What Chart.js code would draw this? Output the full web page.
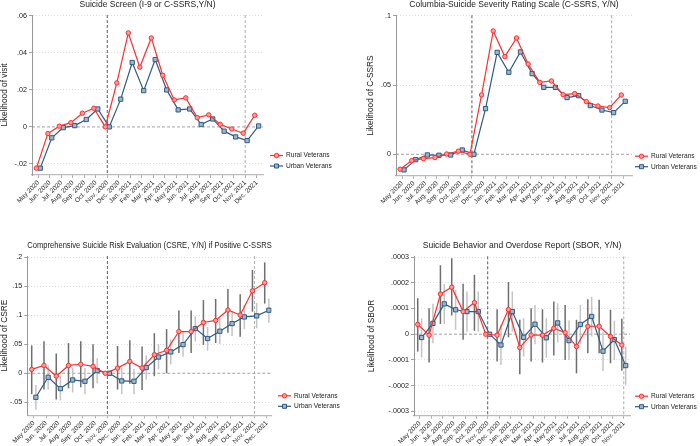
<!DOCTYPE html>
<html lang="en">
<head>
  <meta charset="UTF-8" />
  <title>Rural vs urban veterans - suicide screening</title>
  <script src="https://cdn.jsdelivr.net/npm/chart.js@4.4.1/dist/chart.umd.min.js"></script>
  <style>
    body { margin: 0; background: #fff; }
    .panel { position: absolute; width: 350px; height: 223px; }
  </style>
</head>
<body>
  <div class="panel" style="left:0;top:0"><canvas id="screen"></canvas></div>
  <div class="panel" style="left:350px;top:0"><canvas id="cssrs"></canvas></div>
  <div class="panel" style="left:0;top:223px"><canvas id="csre"></canvas></div>
  <div class="panel" style="left:350px;top:223px"><canvas id="sbor"></canvas></div>

  <script>
    const months = ['May 2020', 'Jun. 2020', 'Jul. 2020', 'Aug. 2020', 'Sep. 2020', 'Oct. 2020', 'Nov. 2020',
      'Dec. 2020', 'Jan. 2021', 'Feb. 2021', 'Mar. 2021', 'Apr. 2021', 'May 2021', 'Jun. 2021', 'Jul. 2021',
      'Aug. 2021', 'Sep. 2021', 'Oct. 2021', 'Nov. 2021', 'Dec. 2021'];
    const groups = ['Rural Veterans', 'Urban Veterans'];
    const eventMonths = ['Nov. 2020', 'Nov. 2021'];

    // Suicide screen
    const screenTicks = [-0.02, 0, 0.02, 0.04, 0.06];
    const screenRural = [-0.0223, -0.0036, 0.0004, 0.0023, 0.0074, 0.0101, 0, 0.0238, 0.0508, 0.0323,
      0.0481, 0.0279, 0.0146, 0.0157, 0.0050, 0.0065, 0.0014, -0.0011, -0.0034, 0.0063];
    const screenUrban = [-0.0223, -0.0059, -0.0004, 0.0007, 0.0040, 0.0097, 0, 0.0150, 0.0348, 0.0196,
      0.0364, 0.0200, 0.0092, 0.0097, 0.0013, 0.0043, -0.0023, -0.0054, -0.0074, 0.0005];

    // C-SSRS
    const cssrsTicks = [0, 0.05, 0.1];
    const cssrsRural = [-0.0108, -0.0046, -0.0031, -0.0024, 0.0002, 0.0022, 0, 0.0429, 0.0892, 0.0706,
      0.0841, 0.0653, 0.0520, 0.0530, 0.0431, 0.0439, 0.0381, 0.0349, 0.0337, 0.0429];
    const cssrsUrban = [-0.0113, -0.0039, -0.0005, -0.0007, -0.0005, 0.0031, 0, 0.0330, 0.0737, 0.0593,
      0.0740, 0.0583, 0.0484, 0.0484, 0.0410, 0.0424, 0.0352, 0.0320, 0.0301, 0.0383];

    // CSRE, with confidence intervals
    const csreTicks = [-0.05, 0, 0.05, 0.1, 0.15, 0.2];
    const csreRural = [0.0066, 0.0135, -0.0049, 0.0135, 0.0155, 0.0118, 0, 0.0089, 0.0204, 0.0091,
      0.032, 0.0395, 0.0719, 0.0719, 0.0875, 0.091, 0.109, 0.1003, 0.142, 0.156];
    const csreRuralLo = [-0.036, -0.028, -0.045, -0.026, -0.024, -0.026, null, -0.028, -0.018, -0.029,
      -0.005, 0.000, 0.035, 0.035, 0.049, 0.052, 0.070, 0.063, 0.106, 0.120];
    const csreRuralHi = [0.048, 0.055, 0.034, 0.052, 0.055, 0.050, null, 0.047, 0.057, 0.046,
      0.069, 0.076, 0.108, 0.108, 0.126, 0.128, 0.145, 0.136, 0.178, 0.191];
    const csreUrban = [-0.0414, -0.0069, -0.0264, -0.0115, -0.0138, 0.0046, 0, -0.0132, -0.0138, 0.0098,
      0.028, 0.0368, 0.0494, 0.077, 0.0598, 0.0724, 0.0856, 0.097, 0.0989, 0.1086];
    const csreUrbanLo = [-0.063, -0.028, -0.047, -0.033, -0.036, -0.017, null, -0.036, -0.036, -0.011,
      0.007, 0.0155, 0.029, 0.0546, 0.039, 0.0506, 0.064, 0.076, 0.0776, 0.087];
    const csreUrbanHi = [-0.020, 0.014, -0.005, 0.010, 0.009, 0.026, null, 0.009, 0.0075, 0.031,
      0.050, 0.0586, 0.072, 0.098, 0.080, 0.095, 0.106, 0.118, 0.121, 0.129];

    // SBOR, with confidence intervals (ends Nov. 2021)
    const sborTicks = [-0.0003, -0.0002, -0.0001, 0, 0.0001, 0.0002, 0.0003];
    const sborRural = [0.000038, -0.000004, 0.000156, 0.000183, 0.000088, 0.000123, 0, -0.000004, 0.000096,
      -0.000052, -0.000003, -0.000004, 0.000023, 0.000006, -0.000048, 0.000031, 0.000031, -0.000009, -0.000042];
    const sborRuralLo = [-0.0000675, -0.00011, 0.00004, 0.000073, -0.000022, 0.000013, null, -0.000106, -0.000012,
      -0.000156, -0.000106, -0.00011, -0.000083, -0.0001, -0.000152, -0.000074, -0.000074, -0.000113, -0.000142];
    const sborRuralHi = [0.00014, 0.000101, 0.000268, 0.000295, 0.000196, 0.000231, null, 0.000097, 0.000203,
      0.000056, 0.000101, 0.000097, 0.000127, 0.000114, 0.000056, 0.000136, 0.000134, 0.000095, 0.00006];
    const sborUrban = [-0.000013, 0.000042, 0.000118, 0.000095, 0.000088, 0.000088, 0, -0.000042, 0.000088,
      -0.000012, 0.000039, -0.000014, 0.000044, -0.000025, 0.000038, 0.000069, -0.000066, -0.000021, -0.000122];
    const sborUrbanLo = [-0.000091, -0.000035, 0.00004, 0.000017, 0.00001, 0.00001, null, -0.00012, 0.00001,
      -0.000087, -0.000039, -0.000091, -0.000032, -0.0001, -0.000039, -0.000009, -0.000143, -0.0001, -0.000197];
    const sborUrbanHi = [0.000062, 0.000118, 0.000195, 0.000173, 0.000166, 0.000166, null, 0.000036, 0.000166,
      0.000062, 0.000114, 0.000062, 0.00012, 0.000053, 0.000114, 0.000145, 0.00001, 0.000052, -0.000048];

    Chart.defaults.font.family = '"Liberation Sans", Arial, sans-serif';
    Chart.defaults.color = '#222';

    // stata style numbers: .05, -.0001
    function fmt(v) {
      if (v === 0) return '0';
      return (v < 0 ? '-' : '') + String(Math.abs(v)).replace(/^0/, '');
    }

    function series(values, shift) {
      return values.map((v, i) => ({ x: i + shift, y: v }));
    }

    // zero line, event month lines and CI bars, under the lines
    const refLines = {
      id: 'refLines',
      beforeDatasetsDraw(chart) {
        const { ctx, chartArea: a, scales: { x, y } } = chart;
        ctx.save();
        ctx.lineWidth = 0.8;
        ctx.setLineDash([3, 2]);
        ctx.strokeStyle = '#8a8a8a';
        const y0 = y.getPixelForValue(0);
        ctx.beginPath(); ctx.moveTo(a.left, y0); ctx.lineTo(a.right, y0); ctx.stroke();
        eventMonths.forEach((m, k) => {
          const px = x.getPixelForValue(months.indexOf(m));
          ctx.strokeStyle = k === 0 ? '#333' : '#999';
          ctx.beginPath(); ctx.moveTo(px, a.top); ctx.lineTo(px, a.bottom); ctx.stroke();
        });
        ctx.setLineDash([]);
        ctx.lineWidth = 1.5;
        chart.data.datasets.forEach(ds => {
          if (!ds.lo) return;
          ctx.strokeStyle = ds.barColor;
          ds.data.forEach((p, i) => {
            if (ds.lo[i] == null) return;
            const px = x.getPixelForValue(p.x);
            ctx.beginPath();
            ctx.moveTo(px, y.getPixelForValue(ds.lo[i]));
            ctx.lineTo(px, y.getPixelForValue(ds.hi[i]));
            ctx.stroke();
          });
        });
        ctx.restore();
      }
    };

    // legend to the right, near the bottom of the plot
    const sideLegend = {
      id: 'sideLegend',
      afterDraw(chart, args, opts) {
        const { ctx, chartArea: a } = chart;
        ctx.save();
        ctx.font = '6.6px "Liberation Sans", Arial, sans-serif';
        ctx.textBaseline = 'middle';
        chart.data.datasets.forEach((ds, k) => {
          const y = a.bottom - 19.5 + k * 10.5;
          ctx.strokeStyle = ds.borderColor;
          ctx.lineWidth = 1.2;
          ctx.beginPath(); ctx.moveTo(opts.x, y); ctx.lineTo(opts.x + 13, y); ctx.stroke();
          ctx.fillStyle = ds.pointBackgroundColor;
          ctx.lineWidth = 1;
          ctx.beginPath();
          if (ds.pointStyle === 'rect') ctx.rect(opts.x + 4.5, y - 2, 4, 4);
          else ctx.arc(opts.x + 6.5, y, 2.2, 0, Math.PI * 2);
          ctx.fill(); ctx.stroke();
          ctx.fillStyle = '#222';
          ctx.fillText(ds.label, opts.x + 16, y);
        });
        ctx.restore();
      }
    };

    function makePanel(id, p) {
      const n = p.rural.length;
      return new Chart(document.getElementById(id), {
        type: 'line',
        data: {
          datasets: [
            {
              label: groups[0], data: series(p.rural, -0.17), lo: p.ruralLo, hi: p.ruralHi, barColor: '#6e6e6e',
              borderColor: '#ff2d2d', borderWidth: 1.2, pointStyle: 'circle', pointRadius: 2.2,
              pointBackgroundColor: '#ff9c9c', pointBorderColor: '#ff2d2d', pointBorderWidth: 1
            },
            {
              label: groups[1], data: series(p.urban, 0.17), lo: p.urbanLo, hi: p.urbanHi, barColor: '#c4c4c4',
              borderColor: '#2f5b82', borderWidth: 1.2, pointStyle: 'rect', pointRadius: 3,
              pointBackgroundColor: '#9fb6cd', pointBorderColor: '#2f5b82', pointBorderWidth: 1
            }
          ]
        },
        options: {
          responsive: true,
          maintainAspectRatio: false,
          animation: false,
          layout: { padding: { left: p.padLeft, right: 350 - p.area.right, top: 0, bottom: 0 } },
          plugins: {
            legend: { display: false },
            tooltip: { enabled: false },
            title: {
              display: true, text: p.title, fullSize: false, color: '#222',
              font: { size: 8.5, weight: 'normal' },
              padding: { top: p.titleTop, bottom: p.area.top - p.titleTop - 10.2 }
            },
            sideLegend: { x: p.legendX }
          },
          scales: {
            x: {
              type: 'linear', min: p.xMin, max: p.xMax,
              afterBuildTicks: s => { s.ticks = months.slice(0, n).map((m, i) => ({ value: i })); },
              afterFit: s => { s.height = 223 - p.area.bottom; },
              ticks: {
                autoSkip: false, minRotation: 45, maxRotation: 45, padding: 1,
                font: { size: 6.5 }, callback: v => months[v]
              },
              grid: { drawOnChartArea: false, tickLength: 3, tickColor: '#aaa' },
              border: { color: '#bbb', width: 1.2 }
            },
            y: {
              min: p.yMin, max: p.yMax,
              afterBuildTicks: s => { s.ticks = p.ticks.map(v => ({ value: v })); },
              afterFit: s => { s.width = p.area.left - p.padLeft; },
              title: { display: true, text: p.yTitle, font: { size: 8.3 }, padding: 0 },
              ticks: { font: { size: 7.2 }, padding: 2, callback: v => fmt(v) },
              grid: {
                color: c => (c.tick && c.tick.value === 0 ? 'rgba(0,0,0,0)' : '#d5d5d5'),
                lineWidth: 0.8, tickLength: 3, tickColor: '#888', tickBorderDash: []
              },
              border: { color: '#999', dash: [1, 2] }
            }
          }
        },
        plugins: [refLines, sideLegend]
      });
    }

    makePanel('screen', {
      title: 'Suicide Screen (I-9 or C-SSRS,Y/N)', yTitle: 'Likelihood of visit',
      rural: screenRural, urban: screenUrban, ticks: screenTicks,
      yMin: -0.026, yMax: 0.0605, xMin: -0.55, xMax: 19.55,
      area: { left: 32, right: 263, top: 15, bottom: 175 }, padLeft: 0, titleTop: 0, legendX: 270
    });

    makePanel('cssrs', {
      title: 'Columbia-Suicide Severity Rating Scale (C-SSRS, Y/N)', yTitle: 'Likelihood of C-SSRS',
      rural: cssrsRural, urban: cssrsUrban, ticks: cssrsTicks,
      yMin: -0.0155, yMax: 0.1005, xMin: -0.52, xMax: 19.75,
      area: { left: 46, right: 282, top: 15.3, bottom: 175.7 }, padLeft: 15.6, titleTop: 0, legendX: 285
    });

    makePanel('csre', {
      title: 'Comprehensive Suicide Risk Evaluation (CSRE, Y/N) if Positive C-SSRS', yTitle: 'Likelihood of CSRE',
      rural: csreRural, urban: csreUrban, ruralLo: csreRuralLo, ruralHi: csreRuralHi,
      urbanLo: csreUrbanLo, urbanHi: csreUrbanHi, ticks: csreTicks,
      yMin: -0.0724, yMax: 0.202, xMin: -0.53, xMax: 19.4,
      area: { left: 27.3, right: 271.7, top: 33, bottom: 192.3 }, padLeft: 0, titleTop: 17.6, legendX: 278
    });

    makePanel('sbor', {
      title: 'Suicide Behavior and Overdose Report (SBOR, Y/N)', yTitle: 'Likelihood of SBOR',
      rural: sborRural, urban: sborUrban, ruralLo: sborRuralLo, ruralHi: sborRuralHi,
      urbanLo: sborUrbanLo, urbanHi: sborUrbanHi, ticks: sborTicks,
      yMin: -0.000317, yMax: 0.000303, xMin: -0.5, xMax: 18.55,
      area: { left: 64, right: 280, top: 33.3, bottom: 192.7 }, padLeft: 16.6, titleTop: 17.6, legendX: 285
    });
  </script>
</body>
</html>
